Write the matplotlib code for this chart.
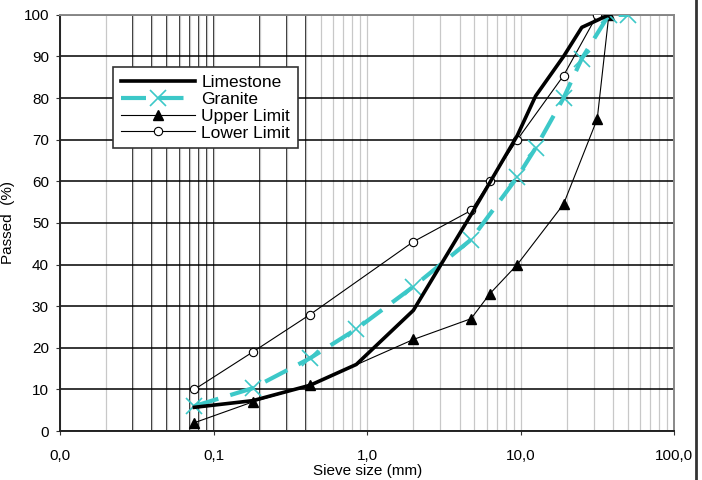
import matplotlib.pyplot as plt
from matplotlib.ticker import FixedLocator, FuncFormatter, LogLocator, NullFormatter
from matplotlib.lines import Line2D

plt.rcParams['font.family'] = ['Liberation Sans', 'DejaVu Sans']

# sieve sizes (mm) and % passed
lime_x = [0.075, 0.18, 0.425, 0.85, 2.0, 4.75, 9.5, 12.5, 19, 25, 37.5]
lime_y = [5.7, 7.3, 11, 16, 29, 52, 71, 80.5, 90, 97, 100]

gran_x = [0.075, 0.18, 0.425, 0.85, 2.0, 4.75, 9.5, 12.5, 19, 25, 37.5, 50]
gran_y = [6, 10.3, 17.5, 24.5, 34.7, 46, 61, 68, 80, 89.5, 100, 100]

upper_x = [0.075, 0.18, 0.425, 2.0, 4.75, 6.3, 9.5, 19, 31.5, 37.5]
upper_y = [2, 7, 11, 22, 27, 33, 40, 54.5, 75, 100]

lower_x = [0.075, 0.18, 0.425, 2.0, 4.75, 6.3, 9.5, 19, 31.5]
lower_y = [10, 19, 28, 45.5, 53, 60, 70, 85.4, 100]

fig = plt.figure(figsize=(7.02, 4.8), dpi=100)
ax = fig.add_axes([0.0855, 0.102, 0.8750, 0.867])

ax.set_xscale('log')
ax.set_xlim(0.01, 100)
ax.set_ylim(0, 100)

# gridlines: light minor, some darker ones like the original sheet
ax.xaxis.set_minor_locator(LogLocator(base=10, subs=range(2, 10)))
ax.xaxis.set_minor_formatter(NullFormatter())
ax.grid(which='both', axis='x', color='#c8c8c8', lw=0.9, zorder=0)
dark_grid = [0.03, 0.04, 0.05, 0.06, 0.07, 0.08, 0.09, 0.1, 0.2, 0.3, 0.4]
for g in dark_grid:
    ax.axvline(g, color='#1a1a1a', lw=1.3, zorder=0.5)
ax.yaxis.set_major_locator(FixedLocator(range(0, 101, 10)))
ax.grid(which='major', axis='y', color='black', lw=1.1, zorder=0.5)

ax.plot(lower_x, lower_y, color='black', lw=0.8, marker='o', ms=6,
        mfc='white', mec='black', mew=0.8, label='Lower Limit', zorder=3)
ax.plot(upper_x, upper_y, color='black', lw=0.8, marker='^', ms=6.5,
        label='Upper Limit', zorder=3)
ax.plot(gran_x, gran_y, color='#3cc8c8', lw=3, ls=(0, (6, 3)), marker='x',
        ms=11, mew=1.2, label='Granite', zorder=4)
ax.plot(lime_x, lime_y, color='black', lw=2.6, label='Limestone', zorder=5)

ax.xaxis.set_major_locator(FixedLocator([0.01, 0.1, 1, 10, 100]))
ax.xaxis.set_major_formatter(FuncFormatter(lambda v, p: ('%.1f' % v).replace('.', ',')))
ax.tick_params(axis='both', which='major', direction='out', length=3,
               labelsize=11, pad=5, color='#333333')
ax.tick_params(axis='x', which='minor', length=0)
ax.tick_params(axis='x', pad=10)

for s in ['left', 'bottom']:
    ax.spines[s].set_color('#222222')
    ax.spines[s].set_linewidth(1.4)
for s in ['top', 'right']:
    ax.spines[s].set_color('#888888')
    ax.spines[s].set_linewidth(1.4)

ax.set_xlabel('Sieve size (mm)', fontsize=11, labelpad=1)
ax.set_ylabel('Passed  (%)', fontsize=11, labelpad=6)

handles, labels = ax.get_legend_handles_labels()
order = [3, 2, 1, 0]
leg = ax.legend([handles[i] for i in order], [labels[i] for i in order],
                loc='upper left', bbox_to_anchor=(0.086, 0.875), borderaxespad=0,
                fontsize=12.5, handlelength=4.3, handletextpad=0.35,
                labelspacing=0.1, fancybox=False, framealpha=1,
                edgecolor='#333333', borderpad=0.45)
leg.get_frame().set_linewidth(1.2)
leg.set_zorder(10)

# right border line of the original image
fig.add_artist(Line2D([0.991, 0.991], [0, 1], color='#333333', lw=2,
                      transform=fig.transFigure))

fig.savefig('out.png', dpi=100)
